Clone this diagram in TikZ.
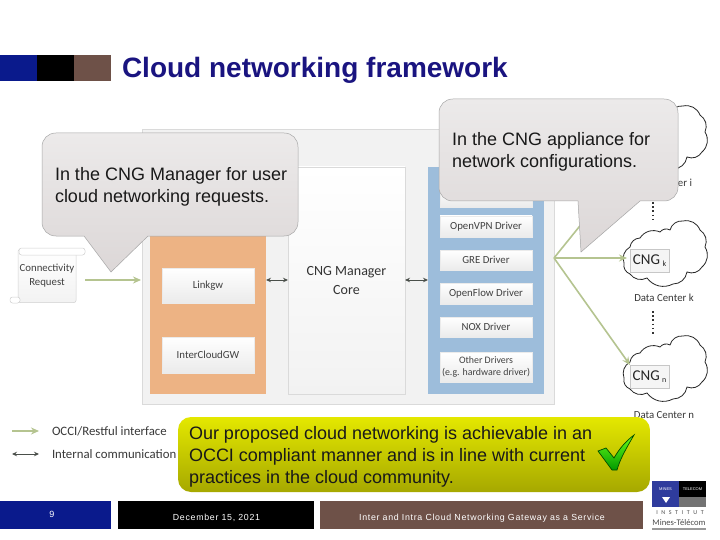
\documentclass[tikz,border=0pt]{standalone}
\usepackage{fontspec}
\setmainfont{Liberation Sans}
\newfontfamily\lab{Carlito}
\usetikzlibrary{arrows.meta}
\definecolor{navy}{HTML}{0A1A8C}
\definecolor{titleblue}{HTML}{1A1480}
\definecolor{brownbar}{HTML}{6E5148}
\definecolor{panelbg}{HTML}{F2F2F2}
\definecolor{panelln}{HTML}{DADADA}
\definecolor{orangebox}{HTML}{EDB384}
\definecolor{bluebox}{HTML}{9DBDDB}
\definecolor{arrowgreen}{HTML}{B5C490}
\definecolor{arrowdark}{HTML}{4A4F4A}
\definecolor{calltop}{HTML}{ECEAEA}
\definecolor{callbot}{HTML}{DCD7D7}
\definecolor{yeltop}{HTML}{E4E800}
\definecolor{yelbot}{HTML}{A6A800}
\newcommand{\fs}[1]{\fontsize{#1}{#1}\selectfont}
\tikzset{
  x=1pt,y=-1pt,
  every node/.style={inner sep=0pt,outer sep=0pt,align=center},
  whitebox/.style={draw=white!92!black,line width=.4pt,top color=white,bottom color=white!92!black,font=\lab\fs{10.8},text=black!75},
  callout/.style={draw=black!35,line width=.5pt,top color=calltop,bottom color=callbot},
  calltext/.style={font=\fs{18},align=left,anchor=west,text=black!90},
  greenarrow/.style={draw=arrowgreen,line width=1.6pt,-{Stealth[length=8pt,width=7pt]}},
  darkarrow/.style={draw=arrowdark,line width=.9pt,{Stealth[length=5pt,width=4.5pt]}-{Stealth[length=5pt,width=4.5pt]}},
  cloudline/.style={draw=black!85,line width=.8pt,fill=white,bend left=40},
  cngbox/.style={draw=black!22,line width=.5pt,fill=black!4,minimum width=39pt,minimum height=23pt,font=\lab\fs{15},text=black!85},
  lbl/.style={font=\lab\fs{10.8},text=black!78},
  legend/.style={font=\lab\fs{12.8},text=black!78,anchor=west},
  dots/.style={draw=black!80,line width=1.6pt,dash pattern=on 1.6pt off 2.6pt},
  bar/.style={fill=#1,draw=none}
}
\begin{document}
\begin{tikzpicture}
\useasboundingbox (0,0) rectangle (720,540);
\fill[white] (0,0) rectangle (720,540);
% header
\fill[bar=navy] (0,55) rectangle (37,81);
\fill[bar=black] (37,55) rectangle (74,81);
\fill[bar=brownbar] (74,55) rectangle (111,81);
\node[anchor=west,font=\bfseries\fs{28},text=titleblue] (title) at (122,70) {Cloud networking framework};
% panel
\node[draw=panelln,fill=panelbg,line width=.8pt,minimum width=412pt,minimum height=275pt] (panel) at (348,266.5) {};
\node[fill=orangebox,minimum width=116pt,minimum height=227pt] (orange) at (208,280.5) {};
\node[draw=panelln,line width=.6pt,top color=white,bottom color=panelbg,minimum width=117pt,minimum height=227pt] (core) at (346.5,280.5) {};
\node[fill=bluebox,minimum width=116pt,minimum height=227pt] (blue) at (486,280.5) {};
\node[font=\lab\fs{14},text=black!80] (corelab) at (346.5,280.5) {CNG Manager\\[5pt]Core};
\node[whitebox,minimum width=92pt,minimum height=35pt] (linkgw) at (208,285.5) {Linkgw};
\node[whitebox,minimum width=92pt,minimum height=36pt] (icgw) at (208,355) {InterCloudGW};
\node[whitebox,minimum width=92pt,minimum height=20pt] (hidden) at (486,197) {};
\node[whitebox,minimum width=92pt,minimum height=21pt] (ovpn) at (486,226.5) {OpenVPN Driver};
\node[whitebox,minimum width=92pt,minimum height=20pt] (gre) at (486,260) {GRE Driver};
\node[whitebox,minimum width=92pt,minimum height=21pt] (oflow) at (486,293.5) {OpenFlow Driver};
\node[whitebox,minimum width=92pt,minimum height=20pt] (nox) at (486,327) {NOX Driver};
\node[whitebox,minimum width=92pt,minimum height=30pt,font=\lab\fs{9.9}] (other) at (486,367) {Other Drivers\\[2pt](e.g. hardware driver)};
% clouds
\draw[cloudline,shift={(624,105)}] (0,43) to (6,27) to (16,18) to (36,12) to (46,10) to (59,1) to (76,10) to (81,27) to (78,47) to (63,52) to (49,64) to (23,58) to (6,54) to cycle;
\draw[cloudline,shift={(624,220)}] (0,43) to (6,27) to (16,18) to (36,12) to (46,10) to (59,1) to (76,10) to (81,27) to (78,47) to (63,52) to (49,64) to (23,58) to (6,54) to cycle;
\draw[cloudline,shift={(624,335)}] (0,43) to (6,27) to (16,18) to (36,12) to (46,10) to (59,1) to (76,10) to (81,27) to (78,47) to (63,52) to (49,64) to (23,58) to (6,54) to cycle;
\node[cngbox] (cngk) at (649.5,261) {CNG\,{\fs{8}\raisebox{-2pt}{k}}};
\node[cngbox] (cngn) at (649.5,376.5) {CNG\,{\fs{8}\raisebox{-2pt}{n}}};
\node[lbl] (dck) at (664,298) {Data Center k};
\node[lbl] (dcn) at (664,415) {Data Center n};
\node[lbl] (dci) at (685,183) {er i};
\coordinate (dotsa) at (653,202);
\coordinate (dotsb) at (653,222);
\coordinate (dotsc) at (653,311);
\coordinate (dotsd) at (653,336);
\draw[dots] (dotsa) -- (dotsb);
\draw[dots] (dotsc) -- (dotsd);
% green lines
\coordinate (hub) at (554,258);
\coordinate (clk) at (627,258);
\coordinate (cln) at (630,365);
\coordinate (cli) at (625,170);
\draw[greenarrow] (hub) -- (clk);
\draw[greenarrow] (hub) -- (cln);
\draw[draw=arrowgreen,line width=1.6pt] (hub) -- (cli);
% connectivity scroll
\node[font=\lab\fs{10.8},text=black!75,top color=white,bottom color=black!5,draw=black!18,line width=.5pt,minimum width=58pt,minimum height=53pt,rounded corners=2pt] (conn) at (47,276) {Connectivity\\[3pt]Request};
\draw[draw=black!18,line width=.5pt,fill=white,rounded corners=2.5pt] (19,248) rectangle (85,255);
\draw[draw=black!18,line width=.5pt,fill=white,rounded corners=2.5pt] (10,297) rectangle (20,303);
\coordinate (panelin) at (141,280);
\coordinate (connout) at (85,280);
\draw[greenarrow] (connout) -- (panelin);
\coordinate (dla) at (266,280);
\coordinate (dlb) at (288,280);
\coordinate (dra) at (405,280);
\coordinate (drb) at (428,280);
\draw[darkarrow] (dla) -- (dlb);
\draw[darkarrow] (dra) -- (drb);
% callouts
\draw[callout] (56,133) -- (284,133) .. controls (292,133) and (298,139) .. (298,147) -- (298,222) .. controls (298,230) and (292,236) .. (284,236) -- (148,236) -- (111,272) -- (84,236) -- (56,236) .. controls (48,236) and (42,230) .. (42,222) -- (42,147) .. controls (42,139) and (48,133) .. (56,133) -- cycle;
\node[calltext] (t1) at (55,187) {In the CNG Manager for user\\[4pt]cloud networking requests.};
\draw[callout] (453,99) -- (664,99) .. controls (672,99) and (678,105) .. (678,113) -- (678,187) .. controls (678,195) and (672,201) .. (664,201) -- (640,201) -- (581,252) -- (578,201) -- (453,201) .. controls (445,201) and (439,195) .. (439,187) -- (439,113) .. controls (439,105) and (445,99) .. (453,99) -- cycle;
\node[calltext] (t2) at (452,152) {In the CNG appliance for\\[4pt]network configurations.};
% legend
\coordinate (lga) at (12,431);
\coordinate (lgb) at (39,431);
\coordinate (lgc) at (12,454);
\coordinate (lgd) at (39,454);
\draw[greenarrow] (lga) -- (lgb);
\draw[darkarrow] (lgc) -- (lgd);
\node[legend] (lg1) at (52,431) {OCCI/Restful interface};
\node[legend] (lg2) at (52,454) {Internal communication};
% yellow box
\draw[draw=none,top color=yeltop,bottom color=yelbot,rounded corners=13pt] (178,417) rectangle (650,492);
\node[anchor=west,align=left,font=\fs{18},text=black!90] (t3) at (189,457) {Our proposed cloud networking is achievable in an\\[4pt]OCCI compliant manner and is in line with current\\[4pt]practices in the cloud community.};
\draw[draw=black!70!green,line width=.7pt,top color=green!65!yellow!90!white,bottom color=green!60!black] (598,451) -- (606,448) -- (614,458) .. controls (619,449) and (626,441) .. (634,435) .. controls (627,447) and (620,459) .. (617,470) -- (612,470) -- cycle;
% footer
\fill[bar=navy] (0,501) rectangle (111,529);
\fill[bar=black] (118,501) rectangle (314,529);
\fill[bar=brownbar] (320,501) rectangle (643,529);
\node[font=\fs{9},text=white] (pg) at (52,514) {9};
\node[font=\fs{8.8}\addfontfeature{LetterSpace=8},text=white] (dt) at (216.5,518) {December 15, 2021};
\node[font=\fs{8.8}\addfontfeature{LetterSpace=8},text=white] (ft) at (482,518) {Inter and Intra Cloud Networking Gateway as a Service};
% logo
\fill[fill=navy!85!white] (652,481) rectangle (679,507);
\fill[black] (679,481) rectangle (706,497);
\fill[black!55] (679,497) rectangle (706,507);
\node[font=\fs{4},text=white] (lgm) at (665.5,489) {MINES};
\node[font=\fs{4},text=white] (lgt) at (692.5,489) {TELECOM};
\fill[white] (662,497) -- (670,497) -- (666,503) -- cycle;
\node[font=\lab\fs{6}\addfontfeature{LetterSpace=60},text=black!70] (ins) at (680,513) {INSTITUT};
\node[font=\lab\fs{8.6},text=black!70] (mt) at (679,522.5) {Mines-Télécom};
\fill[black!40] (652,528) rectangle (706,529.5);
\end{tikzpicture}
\end{document}
